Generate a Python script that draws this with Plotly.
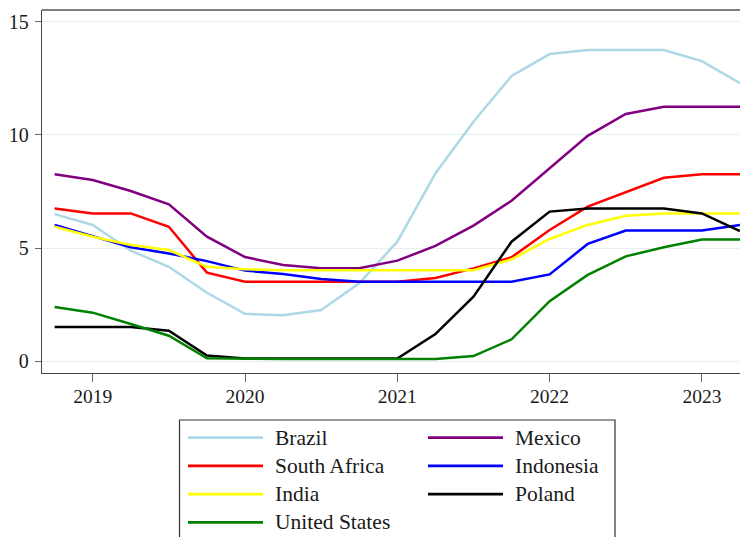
import plotly.graph_objects as go

# Quarterly policy rates (%), 2018Q4 - 2023Q2
quarters = ["2018Q4",
            "2019Q1", "2019Q2", "2019Q3", "2019Q4",
            "2020Q1", "2020Q2", "2020Q3", "2020Q4",
            "2021Q1", "2021Q2", "2021Q3", "2021Q4",
            "2022Q1", "2022Q2", "2022Q3", "2022Q4",
            "2023Q1", "2023Q2"]

brazil = [6.50, 6.02, 4.88, 4.17, 3.02, 2.09, 2.02, 2.26, 3.44, 5.28,
          8.30, 10.59, 12.61, 13.58, 13.76, 13.76, 13.76, 13.27, 12.29]
mexico = [8.26, 8.01, 7.52, 6.93, 5.50, 4.60, 4.25, 4.10, 4.10, 4.44,
          5.09, 5.99, 7.09, 8.53, 9.96, 10.93, 11.25, 11.25, 11.25]
south_africa = [6.75, 6.53, 6.53, 5.94, 3.91, 3.51, 3.51, 3.51, 3.51, 3.51,
                3.67, 4.10, 4.59, 5.80, 6.83, 7.46, 8.11, 8.26, 8.26]
indonesia = [6.02, 5.53, 5.03, 4.76, 4.42, 4.00, 3.85, 3.63, 3.51, 3.51,
             3.51, 3.51, 3.51, 3.83, 5.18, 5.77, 5.77, 5.77, 6.02]
india = [5.94, 5.50, 5.13, 4.91, 4.17, 4.06, 4.02, 4.02, 4.02, 4.02,
         4.02, 4.02, 4.50, 5.40, 6.02, 6.43, 6.53, 6.53, 6.53]
poland = [1.50, 1.50, 1.50, 1.34, 0.24, 0.11, 0.11, 0.11, 0.11, 0.11,
          1.19, 2.85, 5.28, 6.61, 6.75, 6.75, 6.75, 6.53, 5.75]
united_states = [2.39, 2.14, 1.64, 1.12, 0.12, 0.09, 0.09, 0.09, 0.09, 0.09,
                 0.09, 0.22, 0.96, 2.65, 3.81, 4.63, 5.03, 5.38, 5.38]

series_names = ["Brazil", "Mexico", "South Africa", "Indonesia",
                "India", "Poland", "United States"]
series_values = [brazil, mexico, south_africa, indonesia,
                 india, poland, united_states]
series_colors = ["#add8e6", "#800080", "#ff0000", "#0000ff",
                 "#ffff00", "#000000", "#008000"]

year_ticks = [2019, 2020, 2021, 2022, 2023]
year_labels = ["2019", "2020", "2021", "2022", "2023"]
y_ticks = [0, 5, 10, 15]

# decimal-year position of each quarter
x_pos = [int(q[:4]) + (int(q[5]) - 1) / 4 for q in quarters]

FONT = "Liberation Serif"
W, H = 740, 537
M_L, M_R, M_T, M_B = 42, 0, 10, 164
PW, PH = W - M_L - M_R, H - M_T - M_B


def pxx(px):
    return (px - M_L) / PW


def pxy(py):
    return (H - M_B - py) / PH


fig = go.Figure()
for name, vals, col in zip(series_names, series_values, series_colors):
    fig.add_trace(go.Scatter(x=x_pos, y=vals, mode="lines", name=name,
                             line=dict(color=col, width=2.5),
                             showlegend=False))

# legend box (two columns, row-wise order)
shapes = [
    dict(type="line", xref="paper", yref="paper", x0=0, x1=1, y0=1, y1=1,
         line=dict(color="#555555", width=1.3)),
    dict(type="rect", xref="paper", yref="paper",
         x0=pxx(179.5), x1=pxx(615), y0=pxy(420), y1=pxy(560),
         line=dict(color="#333333", width=1.2), fillcolor="white"),
]
annotations = []
row_y0, row_step = 437.7, 28.2
col_line_x = [188, 428]
col_text_x = [273, 513]
for i, (name, col) in enumerate(zip(series_names, series_colors)):
    r, c = divmod(i, 2)
    yy = pxy(row_y0 + r * row_step)
    shapes.append(dict(type="line", xref="paper", yref="paper",
                       x0=pxx(col_line_x[c]), x1=pxx(col_line_x[c] + 75),
                       y0=yy, y1=yy, line=dict(color=col, width=2.8)))
    annotations.append(dict(text=name, xref="paper", yref="paper",
                            x=pxx(col_text_x[c]), y=yy, xanchor="left",
                            yanchor="middle", showarrow=False,
                            font=dict(family=FONT, size=21.5, color="#1a1a1a")))

fig.update_layout(
    width=W, height=H,
    margin=dict(l=M_L, r=M_R, t=M_T, b=M_B),
    paper_bgcolor="white", plot_bgcolor="white",
    font=dict(family=FONT, size=20, color="#1a1a1a"),
    shapes=shapes, annotations=annotations,
    showlegend=False,
)
fig.update_xaxes(range=[2018.667, 2023.25], tickvals=year_ticks,
                 ticktext=year_labels, showgrid=False, zeroline=False,
                 showline=True, linecolor="#444444", linewidth=1.3,
                 ticks="outside", ticklen=8, tickcolor="#666666",
                 tickwidth=1.3, ticklabelstandoff=-3,
                 tickfont=dict(family=FONT, size=19.5))
fig.update_yaxes(range=[-0.53, 15.53], tickvals=y_ticks,
                 showgrid=True, gridcolor="#e8eff2", gridwidth=1.3,
                 zeroline=False, showline=True, linecolor="#444444",
                 linewidth=1.3, ticks="outside", ticklen=6,
                 tickcolor="#666666", tickwidth=1.3, ticklabelstandoff=2,
                 tickfont=dict(family=FONT, size=20))

fig.write_html("out.html")
